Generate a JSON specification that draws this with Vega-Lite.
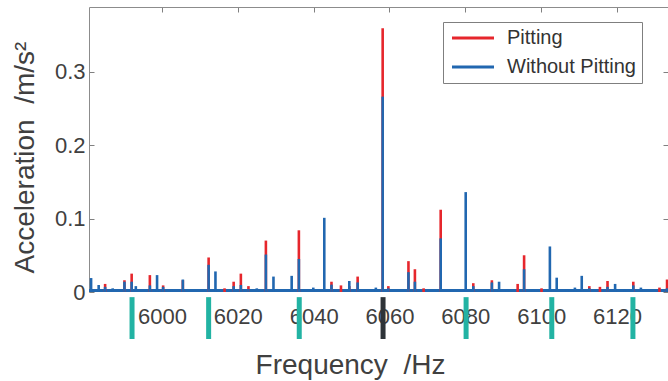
{
  "$schema": "https://vega.github.io/schema/vega-lite/v6.json",
  "width": 579,
  "height": 285,
  "autosize": {"type": "none"},
  "padding": {"left": 89, "top": 7, "right": 0, "bottom": 89},
  "background": "white",
  "config": {"view": {"stroke": null}, "font": "Liberation Sans"},
  "datasets": {
    "spikes": [
      {"f": 5985.0, "s": "Pitting", "a": 0.011},
      {"f": 5990.1, "s": "Pitting", "a": 0.016},
      {"f": 5992.0, "s": "Pitting", "a": 0.025},
      {"f": 5996.8, "s": "Pitting", "a": 0.023},
      {"f": 6000.3, "s": "Pitting", "a": 0.009},
      {"f": 6005.5, "s": "Pitting", "a": 0.016},
      {"f": 6012.3, "s": "Pitting", "a": 0.047},
      {"f": 6016.5, "s": "Pitting", "a": 0.005},
      {"f": 6018.9, "s": "Pitting", "a": 0.014},
      {"f": 6020.8, "s": "Pitting", "a": 0.025},
      {"f": 6022.8, "s": "Pitting", "a": 0.008},
      {"f": 6027.4, "s": "Pitting", "a": 0.070},
      {"f": 6036.1, "s": "Pitting", "a": 0.084},
      {"f": 6044.7, "s": "Pitting", "a": 0.014},
      {"f": 6047.2, "s": "Pitting", "a": 0.009},
      {"f": 6049.4, "s": "Pitting", "a": 0.008},
      {"f": 6051.6, "s": "Pitting", "a": 0.021},
      {"f": 6058.2, "s": "Pitting", "a": 0.359},
      {"f": 6059.7, "s": "Pitting", "a": 0.008},
      {"f": 6065.0, "s": "Pitting", "a": 0.042},
      {"f": 6066.7, "s": "Pitting", "a": 0.031},
      {"f": 6069.0, "s": "Pitting", "a": 0.005},
      {"f": 6073.5, "s": "Pitting", "a": 0.112},
      {"f": 6082.1, "s": "Pitting", "a": 0.012},
      {"f": 6087.0, "s": "Pitting", "a": 0.016},
      {"f": 6093.8, "s": "Pitting", "a": 0.011},
      {"f": 6095.5, "s": "Pitting", "a": 0.050},
      {"f": 6100.1, "s": "Pitting", "a": 0.005},
      {"f": 6112.7, "s": "Pitting", "a": 0.008},
      {"f": 6115.5, "s": "Pitting", "a": 0.007},
      {"f": 6117.5, "s": "Pitting", "a": 0.015},
      {"f": 6124.3, "s": "Pitting", "a": 0.014},
      {"f": 6131.2, "s": "Pitting", "a": 0.006},
      {"f": 6133.2, "s": "Pitting", "a": 0.017},
      {"f": 5981.3, "s": "Without Pitting", "a": 0.019},
      {"f": 5983.3, "s": "Without Pitting", "a": 0.0095},
      {"f": 5985.0, "s": "Without Pitting", "a": 0.007},
      {"f": 5987.0, "s": "Without Pitting", "a": 0.005},
      {"f": 5990.1, "s": "Without Pitting", "a": 0.014},
      {"f": 5992.0, "s": "Without Pitting", "a": 0.014},
      {"f": 5993.1, "s": "Without Pitting", "a": 0.008},
      {"f": 5996.8, "s": "Without Pitting", "a": 0.009},
      {"f": 5998.7, "s": "Without Pitting", "a": 0.023},
      {"f": 6000.3, "s": "Without Pitting", "a": 0.007},
      {"f": 6002.5, "s": "Without Pitting", "a": 0.004},
      {"f": 6005.5, "s": "Without Pitting", "a": 0.017},
      {"f": 6012.3, "s": "Without Pitting", "a": 0.037},
      {"f": 6014.1, "s": "Without Pitting", "a": 0.028},
      {"f": 6018.9, "s": "Without Pitting", "a": 0.008},
      {"f": 6020.8, "s": "Without Pitting", "a": 0.0095},
      {"f": 6022.8, "s": "Without Pitting", "a": 0.004},
      {"f": 6025.0, "s": "Without Pitting", "a": 0.005},
      {"f": 6027.4, "s": "Without Pitting", "a": 0.051},
      {"f": 6029.4, "s": "Without Pitting", "a": 0.021},
      {"f": 6034.2, "s": "Without Pitting", "a": 0.022},
      {"f": 6036.1, "s": "Without Pitting", "a": 0.045},
      {"f": 6039.9, "s": "Without Pitting", "a": 0.006},
      {"f": 6042.8, "s": "Without Pitting", "a": 0.101},
      {"f": 6044.7, "s": "Without Pitting", "a": 0.010},
      {"f": 6049.4, "s": "Without Pitting", "a": 0.015},
      {"f": 6051.6, "s": "Without Pitting", "a": 0.013},
      {"f": 6056.4, "s": "Without Pitting", "a": 0.006},
      {"f": 6058.2, "s": "Without Pitting", "a": 0.266},
      {"f": 6059.7, "s": "Without Pitting", "a": 0.005},
      {"f": 6065.0, "s": "Without Pitting", "a": 0.027},
      {"f": 6066.7, "s": "Without Pitting", "a": 0.014},
      {"f": 6073.5, "s": "Without Pitting", "a": 0.073},
      {"f": 6076.5, "s": "Without Pitting", "a": 0.004},
      {"f": 6080.1, "s": "Without Pitting", "a": 0.136},
      {"f": 6082.1, "s": "Without Pitting", "a": 0.008},
      {"f": 6087.0, "s": "Without Pitting", "a": 0.013},
      {"f": 6088.9, "s": "Without Pitting", "a": 0.014},
      {"f": 6091.0, "s": "Without Pitting", "a": 0.004},
      {"f": 6095.5, "s": "Without Pitting", "a": 0.031},
      {"f": 6097.8, "s": "Without Pitting", "a": 0.003},
      {"f": 6102.3, "s": "Without Pitting", "a": 0.062},
      {"f": 6104.1, "s": "Without Pitting", "a": 0.0195},
      {"f": 6106.8, "s": "Without Pitting", "a": 0.004},
      {"f": 6108.9, "s": "Without Pitting", "a": 0.006},
      {"f": 6110.7, "s": "Without Pitting", "a": 0.022},
      {"f": 6112.7, "s": "Without Pitting", "a": 0.005},
      {"f": 6117.5, "s": "Without Pitting", "a": 0.007},
      {"f": 6119.5, "s": "Without Pitting", "a": 0.011},
      {"f": 6122.0, "s": "Without Pitting", "a": 0.003},
      {"f": 6124.3, "s": "Without Pitting", "a": 0.009},
      {"f": 6126.3, "s": "Without Pitting", "a": 0.006},
      {"f": 6133.2, "s": "Without Pitting", "a": 0.005}
    ],
    "markers": [
      {"f": 5992.1, "k": "t"},
      {"f": 6012.3, "k": "t"},
      {"f": 6036.2, "k": "t"},
      {"f": 6058.3, "k": "b"},
      {"f": 6080.2, "k": "t"},
      {"f": 6102.8, "k": "t"},
      {"f": 6124.2, "k": "t"}
    ]
  },
  "layer": [
    {
      "data": {"values": [{"floor": 0.002}]},
      "mark": {"type": "rule", "color": "#2167b0", "strokeWidth": 3},
      "encoding": {
        "y": {"field": "floor", "type": "quantitative", "axis": null}
      }
    },
    {
      "data": {"name": "spikes"},
      "mark": {"type": "rule", "strokeWidth": 2.6},
      "encoding": {
        "x": {
          "field": "f", "type": "quantitative",
          "scale": {"domain": [5980.75, 6133.45], "nice": false, "zero": false},
          "axis": {
            "orient": "bottom", "values": [6000, 6020, 6040, 6060, 6080, 6100, 6120],
            "format": "d", "ticks": false, "domain": false, "grid": false,
            "labelFontSize": 22, "labelColor": "#404040", "labelPadding": 14, "labelFlush": false,
            "title": "Frequency \u00a0/Hz", "titleFontSize": 28, "titleFontWeight": "normal",
            "titleColor": "#404040", "titleX": 261, "titleY": 81, "titleBaseline": "alphabetic", "titleAlign": "center"
          }
        },
        "y": {
          "field": "a", "type": "quantitative",
          "scale": {"domain": [0, 0.388], "nice": false},
          "axis": {
            "orient": "left", "values": [0, 0.1, 0.2, 0.3],
            "labelExpr": "datum.value == 0 ? '0' : format(datum.value, '.1f')",
            "tickSize": -5, "tickColor": "#808080", "domainColor": "#8c8c8c", "grid": false,
            "labelFontSize": 22, "labelColor": "#404040", "labelPadding": 9,
            "title": "Acceleration \u00a0/m/s²", "titleFontSize": 28, "titleFontWeight": "normal",
            "titleColor": "#404040", "titleAngle": -90, "titleX": -56, "titleY": 150,
            "titleBaseline": "alphabetic", "titleAlign": "center"
          }
        },
        "y2": {"datum": 0},
        "color": {
          "field": "s", "type": "nominal",
          "scale": {"domain": ["Pitting", "Without Pitting"], "range": ["#e6262c", "#2167b0"]},
          "legend": {
            "orient": "none", "legendX": 354, "legendY": 15, "title": null,
            "symbolType": "M-3,0H3", "symbolStrokeWidth": 3, "symbolSize": 196,
            "symbolOffset": 14, "symbolFillColor": "transparent",
            "labelFontSize": 20, "labelColor": "#333333", "strokeColor": "#7f7f7f",
            "labelExpr": "datum.label + '\u00a0\u00a0\u00a0'",
            "fillColor": "white", "padding": 6, "rowPadding": 9, "labelOffset": 24
          }
        }
      }
    },
    {
      "data": {"name": "markers"},
      "mark": {"type": "rule", "strokeWidth": 5},
      "encoding": {
        "x": {
          "field": "f", "type": "quantitative",
          "axis": {
            "orient": "top", "values": [6000, 6020, 6040, 6060, 6080, 6100, 6120],
            "labels": false, "tickSize": -5, "tickColor": "#808080", "domainColor": "#8c8c8c",
            "grid": false, "title": null
          }
        },
        "y": {
          "datum": -0.007, "type": "quantitative",
          "axis": {
            "orient": "right", "values": [0, 0.1, 0.2, 0.3], "labels": false,
            "tickSize": -5, "tickColor": "#808080", "domain": false, "grid": false, "title": null
          }
        },
        "y2": {"datum": -0.064},
        "color": {
          "condition": {"test": "datum.k == 'b'", "value": "#2e3338"},
          "value": "#22b3a3"
        }
      }
    }
  ],
  "resolve": {"axis": {"x": "independent", "y": "independent"}}
}
